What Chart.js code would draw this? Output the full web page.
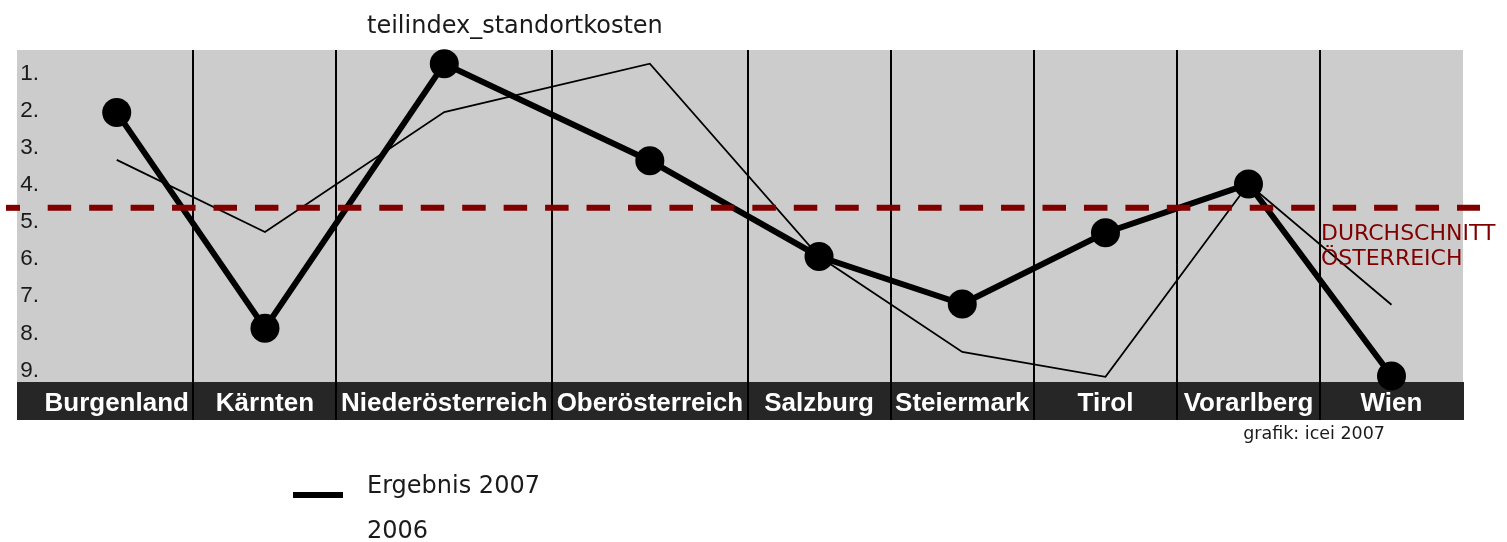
<!DOCTYPE html>
<html>
<head>
<meta charset="utf-8">
<script src="https://cdn.jsdelivr.net/npm/chart.js@4.4.1/dist/chart.umd.min.js"></script>
<style>
  html, body { margin: 0; padding: 0; background: #fff; }
</style>
</head>
<body>
<canvas id="chart" width="1507" height="542"></canvas>
<script>
// ---- daten ----
const titel = "teilindex_standortkosten";
const bundeslaender = ["Burgenland", "Kärnten", "Niederösterreich", "Oberösterreich", "Salzburg", "Steiermark", "Tirol", "Vorarlberg", "Wien"];
const ergebnis2007 = [2.05, 7.86, 0.74, 3.35, 5.93, 7.21, 5.29, 3.98, 9.15];
const ergebnis2006 = [3.33, 5.27, 2.04, 0.74, 5.93, 8.5, 9.17, 3.98, 7.23];
const rangTicks = [1, 2, 3, 4, 5, 6, 7, 8, 9];
const rangLabels = ["1.", "2.", "3.", "4.", "5.", "6.", "7.", "8.", "9."];
const durchschnitt = 4.62;
const durchschnittText = ["DURCHSCHNITT", "ÖSTERREICH"];
const quelle = "grafik: icei 2007";

const SANS = '"DejaVu Sans", Verdana, sans-serif';
const ARIAL = '"Liberation Sans", Arial, sans-serif';

// spaltenbreite richtet sich nach der beschriftung (wie im original)
const mess = document.createElement("canvas").getContext("2d");
mess.font = "bold 26px " + ARIAL;
const spaltenBreite = bundeslaender.map(l => Math.max(mess.measureText(l).width + 9, 143));
const spaltenSumme = spaltenBreite.reduce((a, b) => a + b, 0);

// kategorie-achse mit ungleich breiten spalten
class SpaltenScale extends Chart.CategoryScale {
  getPixelForValue(value) {
    if (typeof value !== "number") value = this.parse(value);
    if (value === null || isNaN(value)) return NaN;
    const n = spaltenBreite.length;
    const k = value - this._startValue;
    const i = Math.max(0, Math.min(n - 1, Math.floor(k)));
    let acc = 0;
    for (let j = 0; j < i; j++) acc += spaltenBreite[j];
    acc += (k - i) * spaltenBreite[i];
    return this.getPixelForDecimal(acc / spaltenSumme);
  }
}
SpaltenScale.id = "spalten";
SpaltenScale.defaults = Chart.CategoryScale.defaults;
Chart.register(SpaltenScale);

// ---- hintergrund, trennlinien, durchschnitt, legende ----
const dekor = {
  id: "dekor",
  beforeDraw(chart) {
    const { ctx, chartArea: a, scales: { x, y } } = chart;
    ctx.save();
    ctx.fillStyle = "#cccccc";
    ctx.fillRect(y.left, a.top, a.right - y.left, a.bottom - a.top);
    ctx.fillStyle = "#262626";
    ctx.fillRect(y.left, a.bottom, a.right - y.left + 1, x.bottom - a.bottom);
    ctx.restore();
  },
  beforeDatasetsDraw(chart) {
    const { ctx, chartArea: a, scales: { x } } = chart;
    ctx.save();
    ctx.fillStyle = "#000";
    for (let i = 1; i < bundeslaender.length; i++) {
      const px = Math.round(x.getPixelForValue(i - 0.5));
      ctx.fillRect(px - 1, a.top, 2, x.bottom - a.top);
    }
    ctx.restore();
  },
  afterDatasetsDraw(chart) {
    const { ctx, chartArea: a, scales: { x, y } } = chart;
    const yAvg = y.getPixelForValue(durchschnitt);
    ctx.save();
    ctx.strokeStyle = "#800000";
    ctx.lineWidth = 6;
    ctx.beginPath();
    ctx.moveTo(a.left - 34, yAvg);
    ctx.lineTo(a.left - 20, yAvg);
    ctx.stroke();
    ctx.setLineDash([23.5, 17.95]);
    ctx.beginPath();
    ctx.moveTo(a.left + 7.7, yAvg);
    ctx.lineTo(a.right + 17, yAvg);
    ctx.stroke();
    ctx.setLineDash([]);

    // beschriftung durchschnitt
    const tx = x.getPixelForValue(bundeslaender.length - 1.5) + 1;
    ctx.fillStyle = "#800000";
    ctx.font = "22px " + SANS;
    ctx.textAlign = "left";
    ctx.textBaseline = "alphabetic";
    durchschnittText.forEach((t, i) => ctx.fillText(t, tx, yAvg + 32 + i * 25));
    ctx.restore();
  },
  afterDraw(chart) {
    const { ctx, chartArea: a, scales: { x } } = chart;
    ctx.save();
    ctx.fillStyle = "#1a1a1a";
    ctx.textBaseline = "alphabetic";

    // titel
    ctx.font = "24px " + SANS;
    ctx.textAlign = "left";
    ctx.fillText(titel, 367, 33);

    // quelle
    ctx.font = "17.5px " + SANS;
    ctx.textAlign = "right";
    ctx.fillText(quelle, a.right - 78, x.bottom + 19);

    // legende
    ctx.textAlign = "left";
    ctx.font = "24px " + SANS;
    chart.data.datasets.forEach((ds, i) => {
      const base = 493 + i * 45;
      if (ds.legendLinie) {
        ctx.fillStyle = ds.borderColor;
        ctx.fillRect(293, base - 1, 50, ds.borderWidth);
      }
      ctx.fillStyle = "#1a1a1a";
      ctx.fillText(ds.label, 367, base);
    });
    ctx.restore();
  }
};

new Chart(document.getElementById("chart"), {
  type: "line",
  data: {
    labels: bundeslaender,
    datasets: [
      {
        label: "Ergebnis 2007",
        data: ergebnis2007,
        borderColor: "#000",
        backgroundColor: "#000",
        borderWidth: 6,
        pointRadius: 14.5,
        pointBackgroundColor: "#000",
        pointBorderWidth: 0,
        tension: 0,
        clip: false,
        legendLinie: true
      },
      {
        label: "2006",
        data: ergebnis2006,
        borderColor: "#000",
        borderWidth: 1.8,
        pointRadius: 0,
        tension: 0,
        clip: false,
        legendLinie: false
      }
    ]
  },
  options: {
    responsive: false,
    animation: false,
    events: [],
    layout: { padding: { top: 50, left: 17, right: 44, bottom: 122 } },
    plugins: {
      legend: { display: false },
      tooltip: { enabled: false },
      title: { display: false }
    },
    scales: {
      x: {
        type: "spalten",
        offset: true,
        grid: { display: false, drawTicks: false },
        border: { display: false },
        ticks: {
          color: "#ffffff",
          autoSkip: false,
          maxRotation: 0,
          minRotation: 0,
          padding: 6,
          font: { family: ARIAL, size: 26, weight: "bold" }
        },
        afterFit: s => { s.height = 38; }
      },
      y: {
        reverse: true,
        min: 0.37,
        max: 9.31,
        grid: { display: false, drawTicks: false },
        border: { display: false },
        afterBuildTicks: s => { s.ticks = rangTicks.map(v => ({ value: v })); },
        ticks: {
          color: "#1a1a1a",
          padding: 1,
          font: { family: ARIAL, size: 22.5 },
          callback: v => rangLabels[rangTicks.indexOf(v)] ?? ""
        },
        afterFit: s => { s.width = 23; }
      }
    }
  },
  plugins: [dekor]
});
</script>
</body>
</html>
